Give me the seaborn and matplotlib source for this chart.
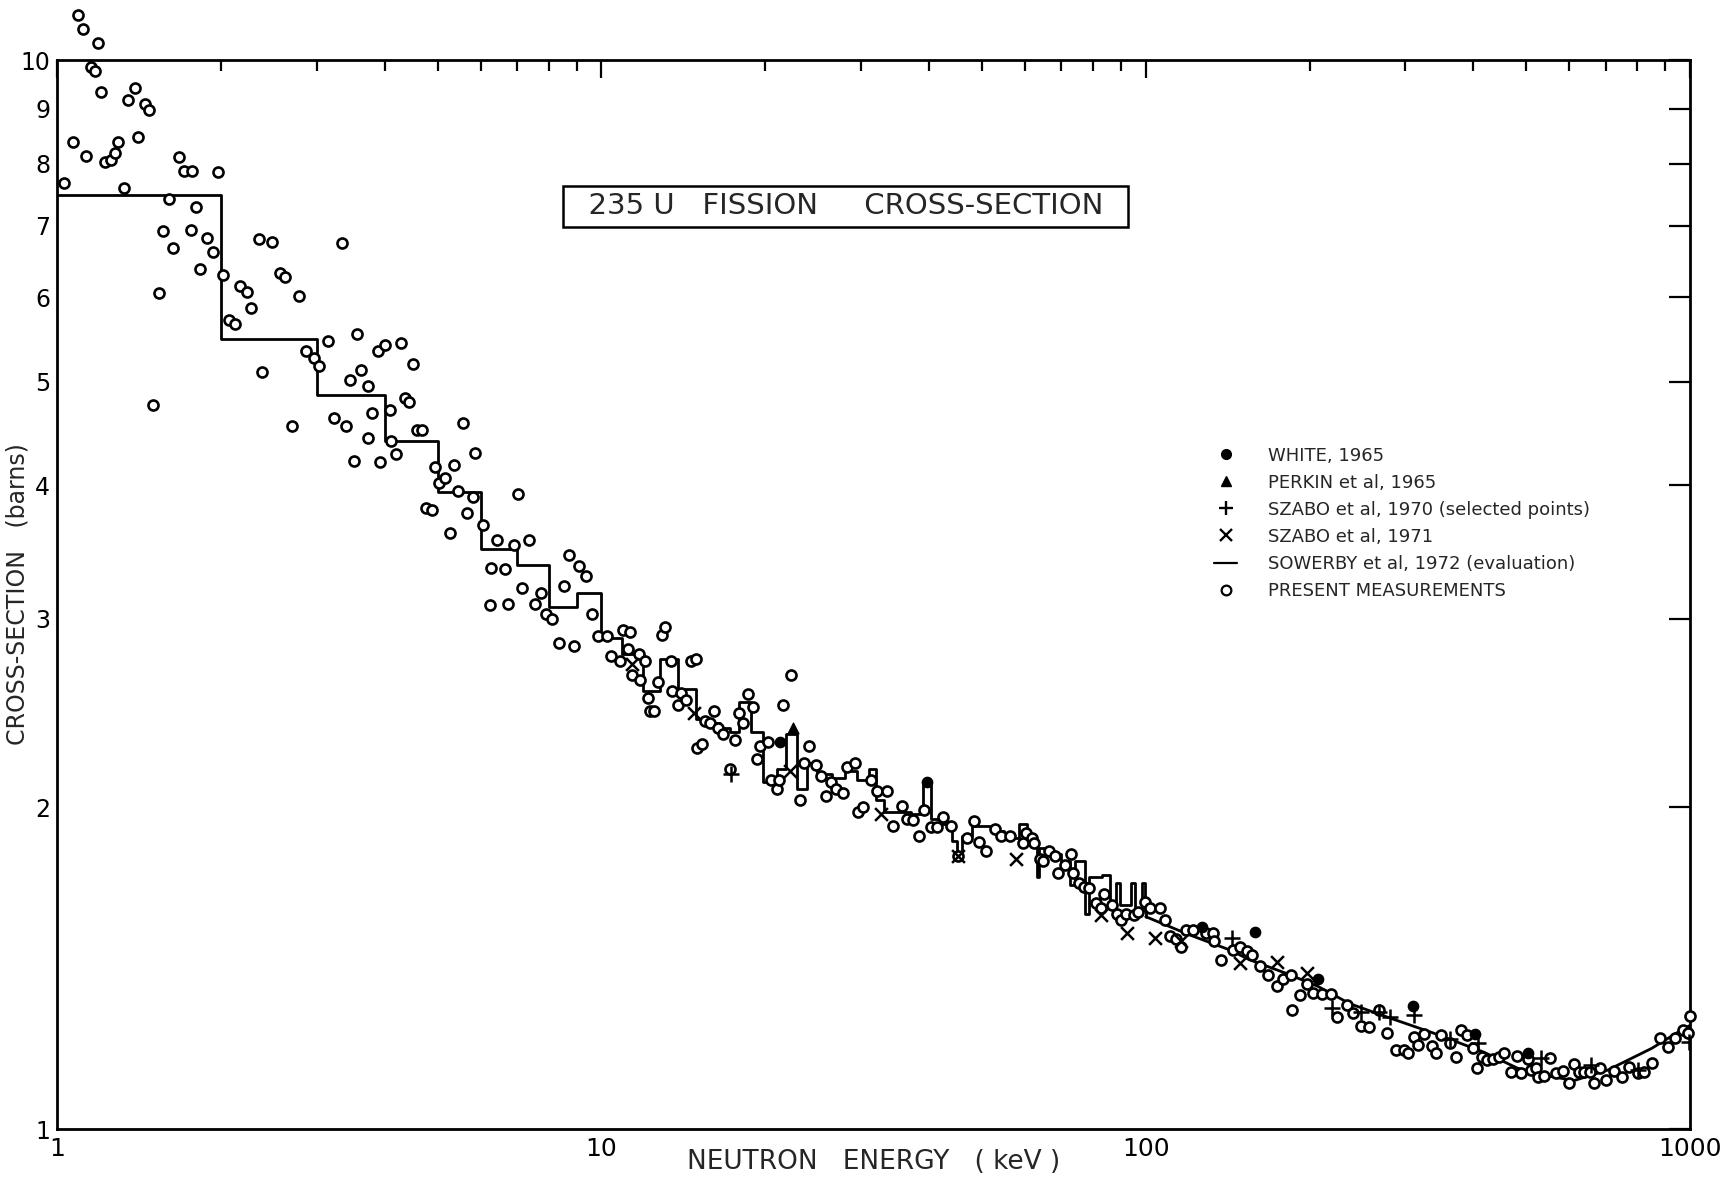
import matplotlib
matplotlib.use("Agg")
import matplotlib.pyplot as plt
import seaborn as sns
from matplotlib.lines import Line2D
from matplotlib.ticker import NullLocator, NullFormatter, LogLocator

# ---- data (energy in keV, cross-section in barns) ----
present_e = [
    1.031, 1.071, 1.094, 1.115, 1.131, 1.153, 1.174, 1.188, 1.203, 1.225, 1.255, 1.278, 1.296,
    1.329, 1.352, 1.392, 1.411, 1.451, 1.476, 1.50, 1.54, 1.563, 1.607, 1.63, 1.677, 1.711,
    1.760, 1.772, 1.800, 1.83, 1.883, 1.93, 1.972, 2.02, 2.07, 2.12, 2.17, 2.23, 2.27, 2.347,
    2.38, 2.479, 2.57, 2.62, 2.70, 2.78,
    2.87, 2.96, 3.03, 3.15, 3.22, 3.336, 3.40, 3.45, 3.51, 3.56, 3.61, 3.72, 3.72, 3.79, 3.89,
    3.92, 4.01, 4.09, 4.11, 4.19, 4.28, 4.35, 4.43, 4.51, 4.58, 4.69, 4.77, 4.88, 4.95, 5.03,
    5.15, 5.27, 5.35, 5.46, 5.58, 5.66, 5.80, 5.87, 6.07, 6.24, 6.26, 6.43, 6.64, 6.73, 6.90,
    7.04, 7.16, 7.37, 7.54, 7.73, 7.91, 8.10, 8.35, 8.53, 8.73, 8.9, 9.11, 9.38, 9.6, 9.87,
    10.23,
    10.4, 10.8, 10.97, 11.2, 11.29, 11.4, 11.7, 11.75, 12.0, 12.2, 12.3, 12.5, 12.7, 12.9,
    13.1, 13.4, 13.5, 13.8, 14.0, 14.3, 14.6, 14.9, 15.0, 15.3, 15.5, 15.8, 16.1, 16.4, 16.7,
    17.2, 17.6, 17.9, 18.2, 18.6, 19.0, 19.3, 19.6, 20.2, 20.5, 21.0, 21.2, 21.6, 22.3, 23.2,
    23.6, 24.1, 24.8, 25.3, 25.9, 26.4, 27.0, 27.8, 28.3, 29.2, 29.6, 30.3, 31.3, 32.1, 33.5,
    34.3,
    35.6, 36.4, 37.3, 38.3, 39.2, 40.4, 41.4, 42.5, 43.9, 45.2, 46.9, 48.3, 49.3, 50.9, 52.8,
    54.3, 56.2, 59.4, 60.3, 61.7, 62.3, 63.9, 64.7, 66.3, 68.1, 69.0, 71.1, 72.9, 73.6, 75.5,
    77.1, 78.7, 81.0, 82.6, 83.8, 86.8, 88.4, 89.9, 91.9, 95.0, 96.9, 99.7,
    101.8, 106.2, 108.5, 110.6, 113.8, 116.0, 118.5, 122.0, 129.1, 133.0, 133.7, 137.5, 144.6,
    149, 153.5, 157, 162,
    168, 174, 179, 185, 192, 186, 198, 203, 211, 219, 225, 234, 240, 249, 257, 268, 278, 288,
    298, 303, 311, 316, 324, 335, 342, 349, 362, 372, 380, 390, 399, 406, 414, 423, 435, 445,
    456, 468, 480, 490, 503, 511, 522, 526, 540, 553, 568, 585, 599, 612, 625, 638, 655, 666,
    684, 702, 725, 749, 773, 801, 823, 851, 879, 909, 940, 972, 990, 998,
]
present_xs = [
    7.67, 8.38, 11.02, 10.69, 8.13, 9.86, 9.77, 10.38, 9.34, 8.03, 8.07, 8.18, 8.38,
    7.59, 9.18, 9.41, 8.48, 9.09, 8.98, 4.76, 6.06, 6.92, 7.41, 6.67, 8.11, 7.87,
    6.94, 7.87, 7.29, 6.37, 6.81, 6.62, 7.85, 6.29, 5.71, 5.66, 6.15, 6.07, 5.86, 6.80,
    5.11, 6.75, 6.32, 6.26, 4.55, 6.01,
    5.34, 5.26, 5.17, 5.46, 4.63, 6.74, 4.55, 5.02, 4.22, 5.54, 5.13, 4.95, 4.43, 4.68, 5.34,
    4.21, 5.41, 4.71, 4.40, 4.28, 5.44, 4.83, 4.79, 5.20, 4.51, 4.51, 3.81, 3.79, 4.16, 4.02,
    4.06, 3.61, 4.18, 3.95, 4.58, 3.77, 3.90, 4.29, 3.67, 3.09, 3.35, 3.56, 3.34, 3.10, 3.52,
    3.93, 3.21, 3.56, 3.10, 3.17, 3.03, 3.00, 2.85, 3.22, 3.44, 2.83, 3.36, 3.29, 3.03, 2.89,
    2.89,
    2.77, 2.74, 2.93, 2.81, 2.915, 2.66, 2.78, 2.63, 2.74, 2.53, 2.46, 2.46, 2.62, 2.90,
    2.95, 2.74, 2.57, 2.49, 2.56, 2.52, 2.74, 2.75, 2.27, 2.29, 2.41, 2.40, 2.46, 2.37, 2.34,
    2.17, 2.31, 2.45, 2.40, 2.55, 2.48, 2.22, 2.28, 2.30, 2.12, 2.08, 2.12, 2.49, 2.66, 2.03,
    2.20, 2.28, 2.19, 2.14, 2.05, 2.11, 2.08, 2.06, 2.18, 2.20, 1.98, 2.00, 2.12, 2.07, 2.07,
    1.92,
    2.005, 1.95, 1.946, 1.88, 1.99, 1.918, 1.916, 1.96, 1.92, 1.80, 1.87, 1.94, 1.855, 1.82, 1.91,
    1.88, 1.88, 1.85, 1.89, 1.87, 1.85, 1.79, 1.78, 1.82, 1.80, 1.737, 1.765, 1.81, 1.735, 1.70,
    1.685, 1.68, 1.628, 1.61, 1.66, 1.62, 1.59, 1.57, 1.59, 1.585, 1.595, 1.63,
    1.61, 1.61, 1.57, 1.515, 1.505, 1.48, 1.535, 1.535, 1.525, 1.525, 1.50, 1.44, 1.47,
    1.48, 1.467, 1.455, 1.42,
    1.394, 1.361, 1.381, 1.394, 1.335, 1.292, 1.366, 1.340, 1.337, 1.337, 1.273, 1.306, 1.284,
    1.248, 1.246, 1.292, 1.230, 1.186, 1.186, 1.178, 1.219, 1.198, 1.227, 1.196, 1.178, 1.224,
    1.203, 1.168, 1.238, 1.224, 1.190, 1.141, 1.168, 1.160, 1.163, 1.168, 1.178, 1.131, 1.170,
    1.128, 1.163, 1.136, 1.141, 1.118, 1.121, 1.165, 1.128, 1.133, 1.104, 1.150, 1.131, 1.131,
    1.131, 1.104, 1.141, 1.111, 1.133, 1.118, 1.143, 1.128, 1.131, 1.153, 1.216, 1.193, 1.216,
    1.238, 1.230, 1.276,
]

white_e = [21.3, 39.7, 126.8, 159, 207, 310, 402, 503]
white_xs = [2.30, 2.11, 1.544, 1.53, 1.381, 1.303, 1.227, 1.178]

perkin_e = [22.5]
perkin_xs = [2.37]

szabo70_e = [17.3, 144, 220, 249, 268, 281, 311, 362, 408, 533, 657, 803, 995]
szabo70_xs = [2.15, 1.51, 1.297, 1.287, 1.287, 1.273, 1.278, 1.214, 1.203, 1.165, 1.148, 1.136, 1.206]

szabo71_e = [11.37, 14.8, 22.2, 32.7, 45.2, 57.8, 82.6, 92.5, 103.8, 116, 149, 174, 198]
szabo71_xs = [2.72, 2.45, 2.16, 1.97, 1.80, 1.79, 1.585, 1.525, 1.51, 1.50, 1.43, 1.433, 1.40]

# Sowerby evaluation: histogram below 100 keV (left bin edges), smooth above
sowerby_step_e = [
    1.0, 2.0, 3.0, 4.0, 5.0, 6.0, 7.0, 8.0, 9.0, 10.0, 10.9, 11.9, 12.8, 13.8, 14.9, 15.8,
    16.5, 17.2, 17.9, 18.8, 19.8, 21.0, 21.8, 22.9, 23.9, 24.9, 26.5, 28.0, 29.5, 31.0, 32.0,
    33.0, 37.0, 39.0, 40.3, 42.5, 44.0, 45.0, 46.0, 48.0, 52.0, 55.0, 58.5, 60.5, 62.5, 63.0,
    63.8, 66.0, 70.0, 72.5, 74.0, 77.5, 78.5, 83.0, 86.0, 88.0, 89.5, 94.0, 95.5, 98.5, 99.5,
    100.0,
]
sowerby_step_xs = [
    7.48, 5.48, 4.86, 4.40, 3.94, 3.49, 3.37, 3.08, 3.17, 2.88, 2.78, 2.57, 2.75, 2.58, 2.42, 2.40,
    2.37, 2.35, 2.51, 2.35, 2.11, 2.17, 2.34, 2.08, 2.20, 2.15, 2.13, 2.16, 2.12, 2.17, 2.03,
    1.98, 1.97, 2.11, 1.95, 1.93, 1.86, 1.80, 1.88, 1.92, 1.90, 1.87, 1.93, 1.86, 1.84, 1.72,
    1.83, 1.81, 1.78, 1.69, 1.78, 1.59, 1.72, 1.73, 1.62, 1.70, 1.62, 1.70, 1.60, 1.70, 1.60,
    1.58,
]
sowerby_smooth_e = [100, 120, 143, 155, 180, 207, 237, 281, 337, 418, 482, 554, 612, 705, 851, 970, 1000]
sowerby_smooth_xs = [1.58, 1.52, 1.47, 1.44, 1.40, 1.36, 1.31, 1.27, 1.23, 1.18, 1.14, 1.12, 1.11,
                     1.135, 1.19, 1.24, 1.25]

y_ticks = [1, 2, 3, 4, 5, 6, 7, 8, 9, 10]
y_tick_labels = ["1", "2", "3", "4", "5", "6", "7", "8", "9", "10"]
x_ticks = [1, 10, 100, 1000]
x_tick_labels = ["1", "10", "100", "1000"]

legend_labels = [
    "WHITE, 1965",
    "PERKIN et al, 1965",
    "SZABO et al, 1970 (selected points)",
    "SZABO et al, 1971",
    "SOWERBY et al, 1972 (evaluation)",
    "PRESENT MEASUREMENTS",
]

sns.set_theme(style="white")
plt.rcParams['font.family'] = ['DejaVu Sans']

fig = plt.figure(figsize=(17.35, 11.79), dpi=100)
ax = fig.add_axes([0.0329, 0.0424, 0.9412, 0.9067])
ax.set_xscale('log')
ax.set_yscale('log')

# evaluation
sns.lineplot(x=sowerby_step_e, y=sowerby_step_xs, drawstyle='steps-post', color='black',
             linewidth=2.0, estimator=None, sort=False, ax=ax, zorder=2)
sns.lineplot(x=sowerby_smooth_e, y=sowerby_smooth_xs, color='black', linewidth=2.0,
             estimator=None, sort=False, ax=ax, zorder=2)

# measurements
sns.scatterplot(x=present_e, y=present_xs, marker='o', s=52, color='white', edgecolor='black',
                linewidth=1.9, ax=ax, zorder=3, clip_on=False)
sns.scatterplot(x=white_e, y=white_xs, marker='o', s=55, color='black', edgecolor='black',
                linewidth=1, ax=ax, zorder=4)
sns.scatterplot(x=perkin_e, y=perkin_xs, marker='^', s=60, color='black', edgecolor='black',
                linewidth=1, ax=ax, zorder=4)
sns.scatterplot(x=szabo70_e, y=szabo70_xs, marker='+', s=130, color='black', linewidth=1.8,
                ax=ax, zorder=4)
sns.scatterplot(x=szabo71_e, y=szabo71_xs, marker='x', s=85, color='black', linewidth=1.8,
                ax=ax, zorder=4)

ax.set_xlim(1, 1000)
ax.set_ylim(1, 10)

# ticks
ax.set_yticks(y_ticks)
ax.set_yticklabels(y_tick_labels)
ax.yaxis.set_minor_locator(NullLocator())
ax.set_xticks(x_ticks)
ax.set_xticklabels(x_tick_labels)
ax.xaxis.set_minor_locator(LogLocator(base=10, subs=[2, 3, 4, 5, 6, 7, 8, 9]))
ax.xaxis.set_minor_formatter(NullFormatter())
ax.tick_params(which='both', direction='in', top=True, right=True, colors='black', width=1.6)
ax.tick_params(axis='y', which='major', length=15, pad=5, labelsize=17)
ax.tick_params(axis='x', which='major', length=13, pad=6, labelsize=18)
ax.tick_params(axis='x', which='minor', length=8)

for sp in ax.spines.values():
    sp.set_color('black')
    sp.set_linewidth(2.0)

ax.set_xlabel("NEUTRON   ENERGY   ( keV )", fontsize=19)
ax.xaxis.set_label_coords(0.5, -0.031)
ax.xaxis.label.set_verticalalignment('center')
ax.set_ylabel("CROSS-SECTION   (barns)", fontsize=17)
ax.yaxis.set_label_coords(-0.0245, 0.5)
ax.yaxis.label.set_verticalalignment('center')

ax.text(0.483, 0.863, "  235 U   FISSION     CROSS-SECTION  ", transform=ax.transAxes,
        ha='center', va='center', fontsize=21,
        bbox=dict(boxstyle='square,pad=0.22', facecolor='white', edgecolor='black', linewidth=1.8))

handles = [
    Line2D([], [], linestyle='none', marker='o', markersize=7, color='black'),
    Line2D([], [], linestyle='none', marker='^', markersize=7, color='black'),
    Line2D([], [], linestyle='none', marker='+', markersize=10, markeredgewidth=1.7, color='black'),
    Line2D([], [], linestyle='none', marker='x', markersize=8, markeredgewidth=1.7, color='black'),
    Line2D([], [], color='black', linewidth=1.6),
    Line2D([], [], linestyle='none', marker='o', markersize=7, markerfacecolor='white',
           markeredgecolor='black', markeredgewidth=1.6),
]
ax.legend(handles, legend_labels, loc='upper left', bbox_to_anchor=(0.704, 0.645),
          frameon=False, fontsize=13, handlelength=1.3, handletextpad=1.7,
          labelspacing=0.5, borderaxespad=0)

fig.savefig("out.png", dpi=100, facecolor='white')
